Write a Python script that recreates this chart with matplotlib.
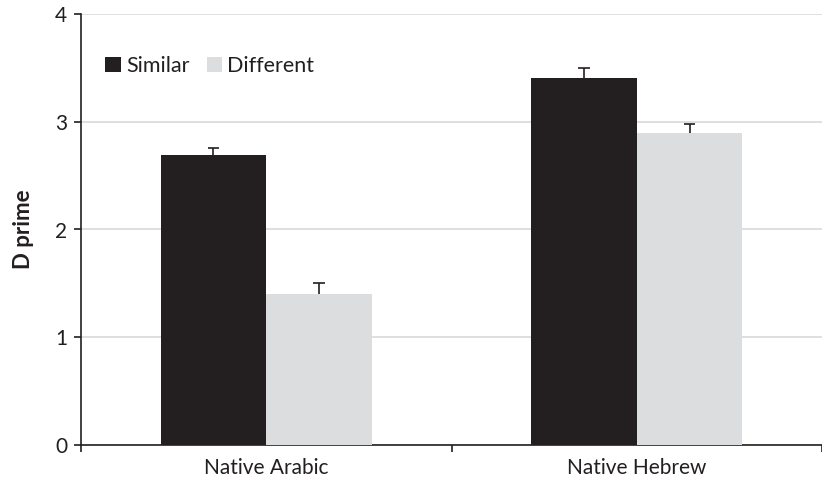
import numpy as np
import matplotlib.pyplot as plt

plt.rcParams['font.family'] = ['Lato', 'DejaVu Sans']

groups = ['Native Arabic', 'Native Hebrew']
similar = [2.69, 3.41]
different = [1.40, 2.90]
similar_err = [0.07, 0.085]
different_err = [0.105, 0.08]

dark = '#231f20'
light = '#dcdddf'

fig = plt.figure(figsize=(8.22, 4.90), dpi=100)
ax = fig.add_axes([81 / 822, 45 / 490, 1 - 81 / 822, 431 / 490])

x = np.arange(len(groups))
w = 0.285
ax.bar(x - w / 2, similar, w, color=dark, label='Similar', zorder=3)
ax.bar(x + w / 2, different, w, color=light, label='Different', zorder=3)

# upper half of the error bars only: stem plus a single cap
cap = 0.016
for xs, ys, es in [(x - w / 2, similar, similar_err), (x + w / 2, different, different_err)]:
    tops = np.array(ys) + np.array(es)
    ax.vlines(xs, ys, tops, color=dark, linewidth=1.2, zorder=4)
    ax.hlines(tops, xs - cap, xs + cap, color=dark, linewidth=1.2, zorder=4)

ax.set_xlim(-0.5, 1.474)
ax.set_ylim(0, 4)
ax.set_yticks([0, 1, 2, 3, 4])
ax.yaxis.grid(True, color='#d9d9d9', linewidth=1.2, zorder=0)
ax.set_axisbelow(True)

ax.set_xticks([-0.5, 0.5, 1.5])
ax.set_xticklabels([])
ax.set_xticks(x, minor=True)
ax.set_xticklabels(groups, minor=True, fontsize=15, color=dark)
ax.tick_params(axis='x', which='minor', length=0, pad=9)
ax.tick_params(axis='x', which='major', length=5, width=1.2, color=dark)
ax.tick_params(axis='y', length=5, width=1.2, color=dark,
               labelsize=15, labelcolor=dark, pad=5)

for s in ['top', 'right']:
    ax.spines[s].set_visible(False)
for s in ['left', 'bottom']:
    ax.spines[s].set_color(dark)
    ax.spines[s].set_linewidth(1.2)

ax.set_ylabel('D prime', fontsize=16, fontweight='bold', color=dark)
ax.yaxis.set_label_coords(-0.064, 0.5)

ax.legend(loc='center left', bbox_to_anchor=(0.033, 0.879), ncol=2, frameon=False,
          fontsize=15.5, handlelength=0.7, handleheight=0.7, handletextpad=0.25,
          columnspacing=0.8, borderpad=0, borderaxespad=0, labelcolor=dark)

fig.savefig('out.png', dpi=100)
